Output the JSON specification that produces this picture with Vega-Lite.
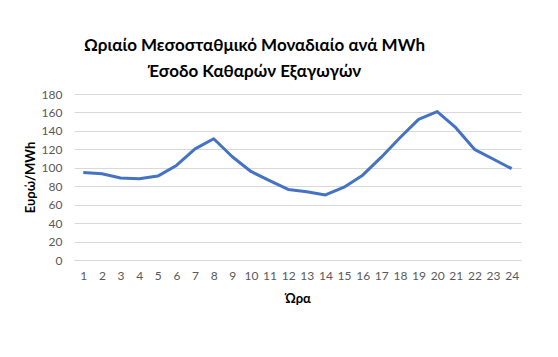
{
  "$schema": "https://vega.github.io/schema/vega-lite/v6.json",
  "autosize": "none",
  "width": 447,
  "height": 166,
  "padding": {"left": 74, "top": 94, "right": 37, "bottom": 97},
  "background": "white",
  "title": {
    "text": ["Ωριαίο Μεσοσταθμικό Μοναδιαίο ανά MWh", "Έσοδο Καθαρών Εξαγωγών"],
    "font": "Lato",
    "fontSize": 17,
    "fontWeight": "bold",
    "color": "#000000",
    "anchor": "middle",
    "dx": -43,
    "offset": 7,
    "lineHeight": 26
  },
  "data": {
    "values": [
      {"hour": 1, "value": 95},
      {"hour": 2, "value": 93.5},
      {"hour": 3, "value": 89},
      {"hour": 4, "value": 88},
      {"hour": 5, "value": 91},
      {"hour": 6, "value": 102.5},
      {"hour": 7, "value": 120.5},
      {"hour": 8, "value": 131.5},
      {"hour": 9, "value": 112},
      {"hour": 10, "value": 96},
      {"hour": 11, "value": 86},
      {"hour": 12, "value": 76.5},
      {"hour": 13, "value": 74},
      {"hour": 14, "value": 70.5},
      {"hour": 15, "value": 79},
      {"hour": 16, "value": 92},
      {"hour": 17, "value": 111.5},
      {"hour": 18, "value": 132.5},
      {"hour": 19, "value": 152.5},
      {"hour": 20, "value": 161},
      {"hour": 21, "value": 143.5},
      {"hour": 22, "value": 120},
      {"hour": 23, "value": 109.5},
      {"hour": 24, "value": 99}
    ]
  },
  "mark": {"type": "line", "color": "#4472C4", "strokeWidth": 3, "strokeJoin": "round"},
  "encoding": {
    "x": {
      "field": "hour",
      "type": "ordinal",
      "scale": {"type": "point", "padding": 0.5},
      "axis": {
        "title": "Ώρα",
        "titleFontSize": 13,
        "labelAngle": 0,
        "grid": false,
        "ticks": false,
        "domain": true,
        "domainColor": "#d9d9d9",
        "labelPadding": 10,
        "titlePadding": 11
      }
    },
    "y": {
      "field": "value",
      "type": "quantitative",
      "scale": {"domain": [0, 180], "nice": false},
      "axis": {
        "title": "Ευρώ/MWh",
        "titleFontSize": 13,
        "values": [0, 20, 40, 60, 80, 100, 120, 140, 160, 180],
        "grid": true,
        "gridColor": "#d9d9d9",
        "ticks": false,
        "domain": false,
        "labelPadding": 12,
        "titlePadding": 4
      }
    }
  },
  "config": {
    "view": {"stroke": null},
    "axis": {
      "labelFont": "Lato",
      "labelFontSize": 12,
      "labelColor": "#595959",
      "titleFont": "Lato",
      "titleFontSize": 12,
      "titleFontWeight": "bold",
      "titleColor": "#000000"
    }
  }
}
